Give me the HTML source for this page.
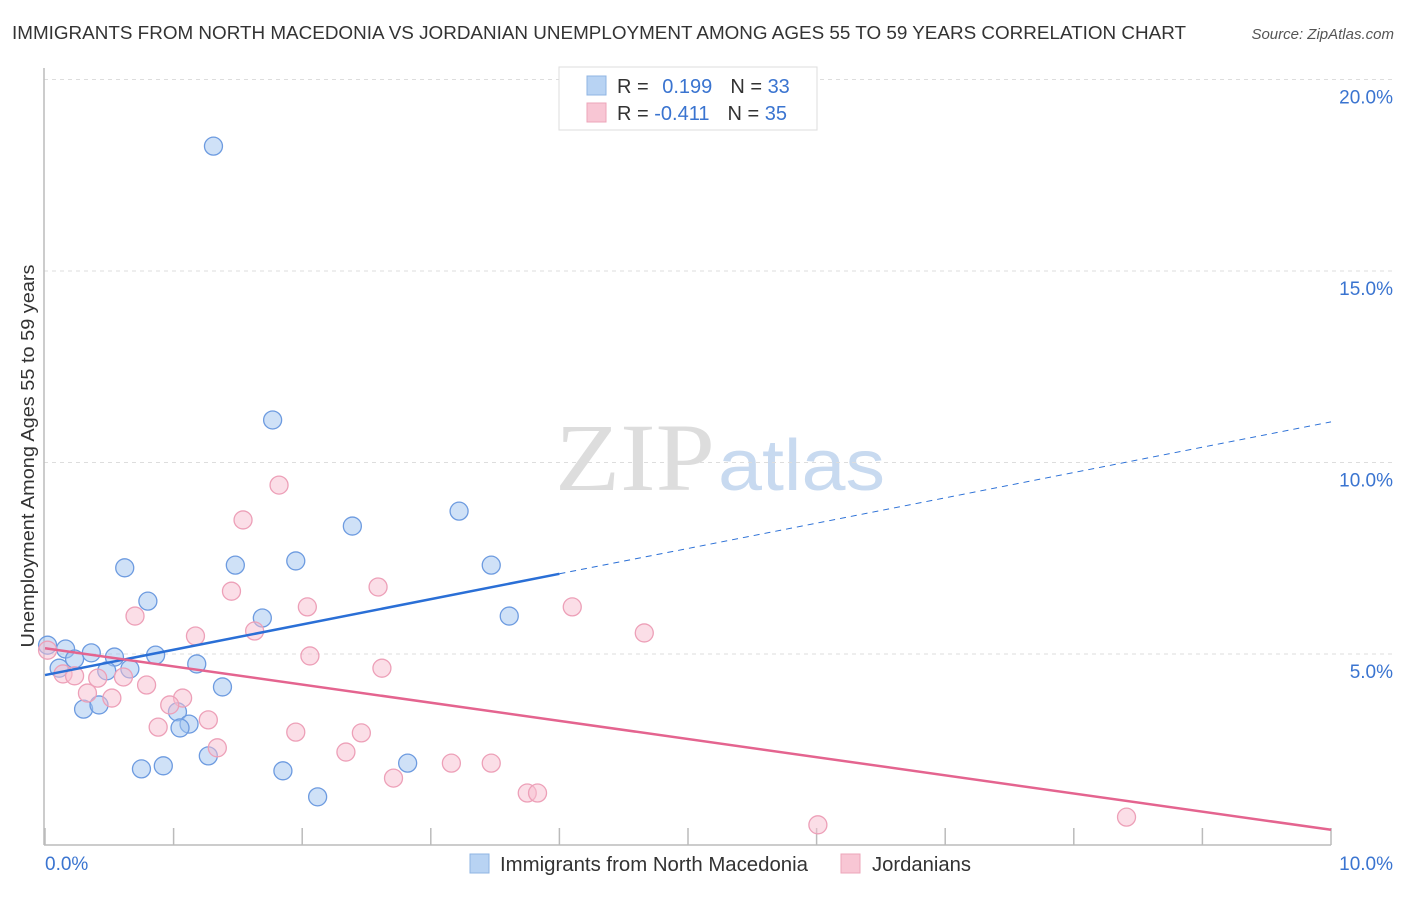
<!DOCTYPE html>
<html><head><meta charset="utf-8"><style>
body{margin:0;background:#fff;font-family:"Liberation Sans",sans-serif}
</style></head><body>
<svg width="1406" height="892" xmlns="http://www.w3.org/2000/svg" id="chart" style="font-family:'Liberation Sans',sans-serif">
<text x="12" y="39" font-size="18" fill="#333" textLength="1174" lengthAdjust="spacingAndGlyphs">IMMIGRANTS FROM NORTH MACEDONIA VS JORDANIAN UNEMPLOYMENT AMONG AGES 55 TO 59 YEARS CORRELATION CHART</text>
<text x="1394" y="39" font-size="15" fill="#555" font-style="italic" text-anchor="end">Source: ZipAtlas.com</text>
<text x="555" y="490" font-size="96" fill="#ddd" textLength="160" lengthAdjust="spacingAndGlyphs" font-family="Liberation Serif">ZIP</text>
<text x="718" y="490" font-size="72" fill="#c8daf0" textLength="167" lengthAdjust="spacingAndGlyphs">atlas</text>
<g id="grid"></g>
<line x1="44" y1="68" x2="44" y2="845" stroke="#bbb" stroke-width="1.5"/>
<line x1="44" y1="845" x2="1331" y2="845" stroke="#bbb" stroke-width="1.5"/>
<g id="ticks"></g>
<text x="34" y="456" font-size="18" fill="#333" text-anchor="middle" textLength="383" lengthAdjust="spacingAndGlyphs" transform="rotate(-90 34 456)">Unemployment Among Ages 55 to 59 years</text>
<g id="pts"></g>
<g id="lines"></g>
<g>
<rect x="559" y="67" width="258" height="63" fill="#fff" stroke="#ddd"/>
<rect x="587" y="76" width="19" height="19" fill="#b8d3f3" stroke="#8fb5e3"/>
<rect x="587" y="103" width="19" height="19" fill="#f8c6d4" stroke="#eda5ba"/>
<text x="617" y="93" font-size="20" fill="#333">R = <tspan fill="#3a74d0" dx="8">0.199</tspan><tspan fill="#333" dx="18">N = </tspan><tspan fill="#3a74d0">33</tspan></text>
<text x="617" y="120" font-size="20" fill="#333">R = <tspan fill="#3a74d0">-0.411</tspan><tspan fill="#333" dx="18">N = </tspan><tspan fill="#3a74d0">35</tspan></text>
</g>
<g>
<rect x="470" y="854" width="19" height="19" fill="#b8d3f3" stroke="#8fb5e3"/>
<text x="500" y="871" font-size="20" fill="#333" textLength="308" lengthAdjust="spacingAndGlyphs">Immigrants from North Macedonia</text>
<rect x="841" y="854" width="19" height="19" fill="#f8c6d4" stroke="#eda5ba"/>
<text x="872" y="871" font-size="20" fill="#333" textLength="99" lengthAdjust="spacingAndGlyphs">Jordanians</text>
</g>
</svg>
<script>
const yTicks=[5,10,15,20];
const yTickLabels=["5.0%","10.0%","15.0%","20.0%"];
const xTickLabels=["0.0%","10.0%"];
const blueX=[1.31,1.77,3.22,2.39,0.62,1.48,1.95,3.47,0.80,1.69,3.61,0.02,0.16,0.36,0.54,0.86,0.23,0.11,0.48,0.66,1.18,1.38,0.30,0.42,1.03,1.12,1.05,1.27,0.75,0.92,1.85,2.82,2.12];
const blueY=[18.26,11.11,8.73,8.34,7.25,7.32,7.43,7.32,6.38,5.94,5.99,5.23,5.13,5.03,4.92,4.97,4.87,4.63,4.56,4.61,4.74,4.14,3.56,3.67,3.49,3.17,3.07,2.34,2.00,2.08,1.95,2.15,1.27];
const pinkX=[1.82,1.54,1.45,2.59,0.70,2.04,4.10,4.66,1.17,1.63,2.06,2.62,0.02,0.14,0.23,0.41,0.61,0.79,1.07,0.33,0.52,0.97,1.27,0.88,1.95,2.46,1.34,2.34,2.71,3.16,3.47,3.75,3.83,6.01,8.41];
const pinkY=[9.41,8.50,6.64,6.75,5.99,6.23,6.23,5.55,5.47,5.60,4.95,4.63,5.10,4.48,4.43,4.37,4.40,4.19,3.85,3.98,3.85,3.67,3.28,3.09,2.96,2.94,2.55,2.44,1.76,2.15,2.15,1.37,1.37,0.54,0.74];
const blueTrend=[4.45,11.06];
const pinkTrend=[5.15,0.41];
const NS="http://www.w3.org/2000/svg";
const sx=v=>45+v/10*1286;
const sy=v=>845.5-v*38.3;
function mk(t,a,p){const e=document.createElementNS(NS,t);for(const k in a)e.setAttribute(k,a[k]);p.appendChild(e);return e;}
const grid=document.getElementById('grid'),ticks=document.getElementById('ticks');
yTicks.forEach((v,i)=>{
 const l=mk('line',{x1:44,x2:1394,y1:sy(v),y2:sy(v),stroke:'#ddd','stroke-dasharray':'4,4'},grid);
 
 
 const t=mk('text',{x:1393,y:sy(v)+24,'font-size':19,fill:'#3a74d0','text-anchor':'end'},ticks);
 t.textContent=yTickLabels[i];
 
 
});
for(let i=0;i<=10;i++){
 const l=mk('line',{x1:sx(i),x2:sx(i),y1:828,y2:845,stroke:'#bbb','stroke-width':1.5},ticks);
 
 
}
[[0,'start',45],[10,'end',1393]].forEach((d,i)=>{
 const t=mk('text',{x:d[2],y:870,'font-size':19,fill:'#3a74d0','text-anchor':d[1]},ticks);
 t.textContent=xTickLabels[i];
 
 
});
const pts=document.getElementById('pts');
blueX.forEach((x,i)=>{
 const c=mk('circle',{cx:sx(x),cy:sy(blueY[i]),r:9,fill:'rgba(160,195,240,0.5)',stroke:'#6d9be0','stroke-width':1.3},pts);
 
 
});
pinkX.forEach((x,i)=>{
 const c=mk('circle',{cx:sx(x),cy:sy(pinkY[i]),r:9,fill:'rgba(248,190,208,0.5)',stroke:'#eda0b8','stroke-width':1.3},pts);
 
 
});
const lines=document.getElementById('lines');
const by=x=>blueTrend[0]+(blueTrend[1]-blueTrend[0])*x/10;
let l=mk('line',{x1:sx(0),y1:sy(by(0)),x2:sx(4),y2:sy(by(4)),stroke:'#2a6fd6','stroke-width':2.5},lines);


l=mk('line',{x1:sx(4),y1:sy(by(4)),x2:sx(10),y2:sy(by(10)),stroke:'#2a6fd6','stroke-width':1,'stroke-dasharray':'6,5'},lines);


l=mk('line',{x1:sx(0),y1:sy(pinkTrend[0]),x2:sx(10),y2:sy(pinkTrend[1]),stroke:'#e4648f','stroke-width':2.5},lines);


</script>
</body></html>
